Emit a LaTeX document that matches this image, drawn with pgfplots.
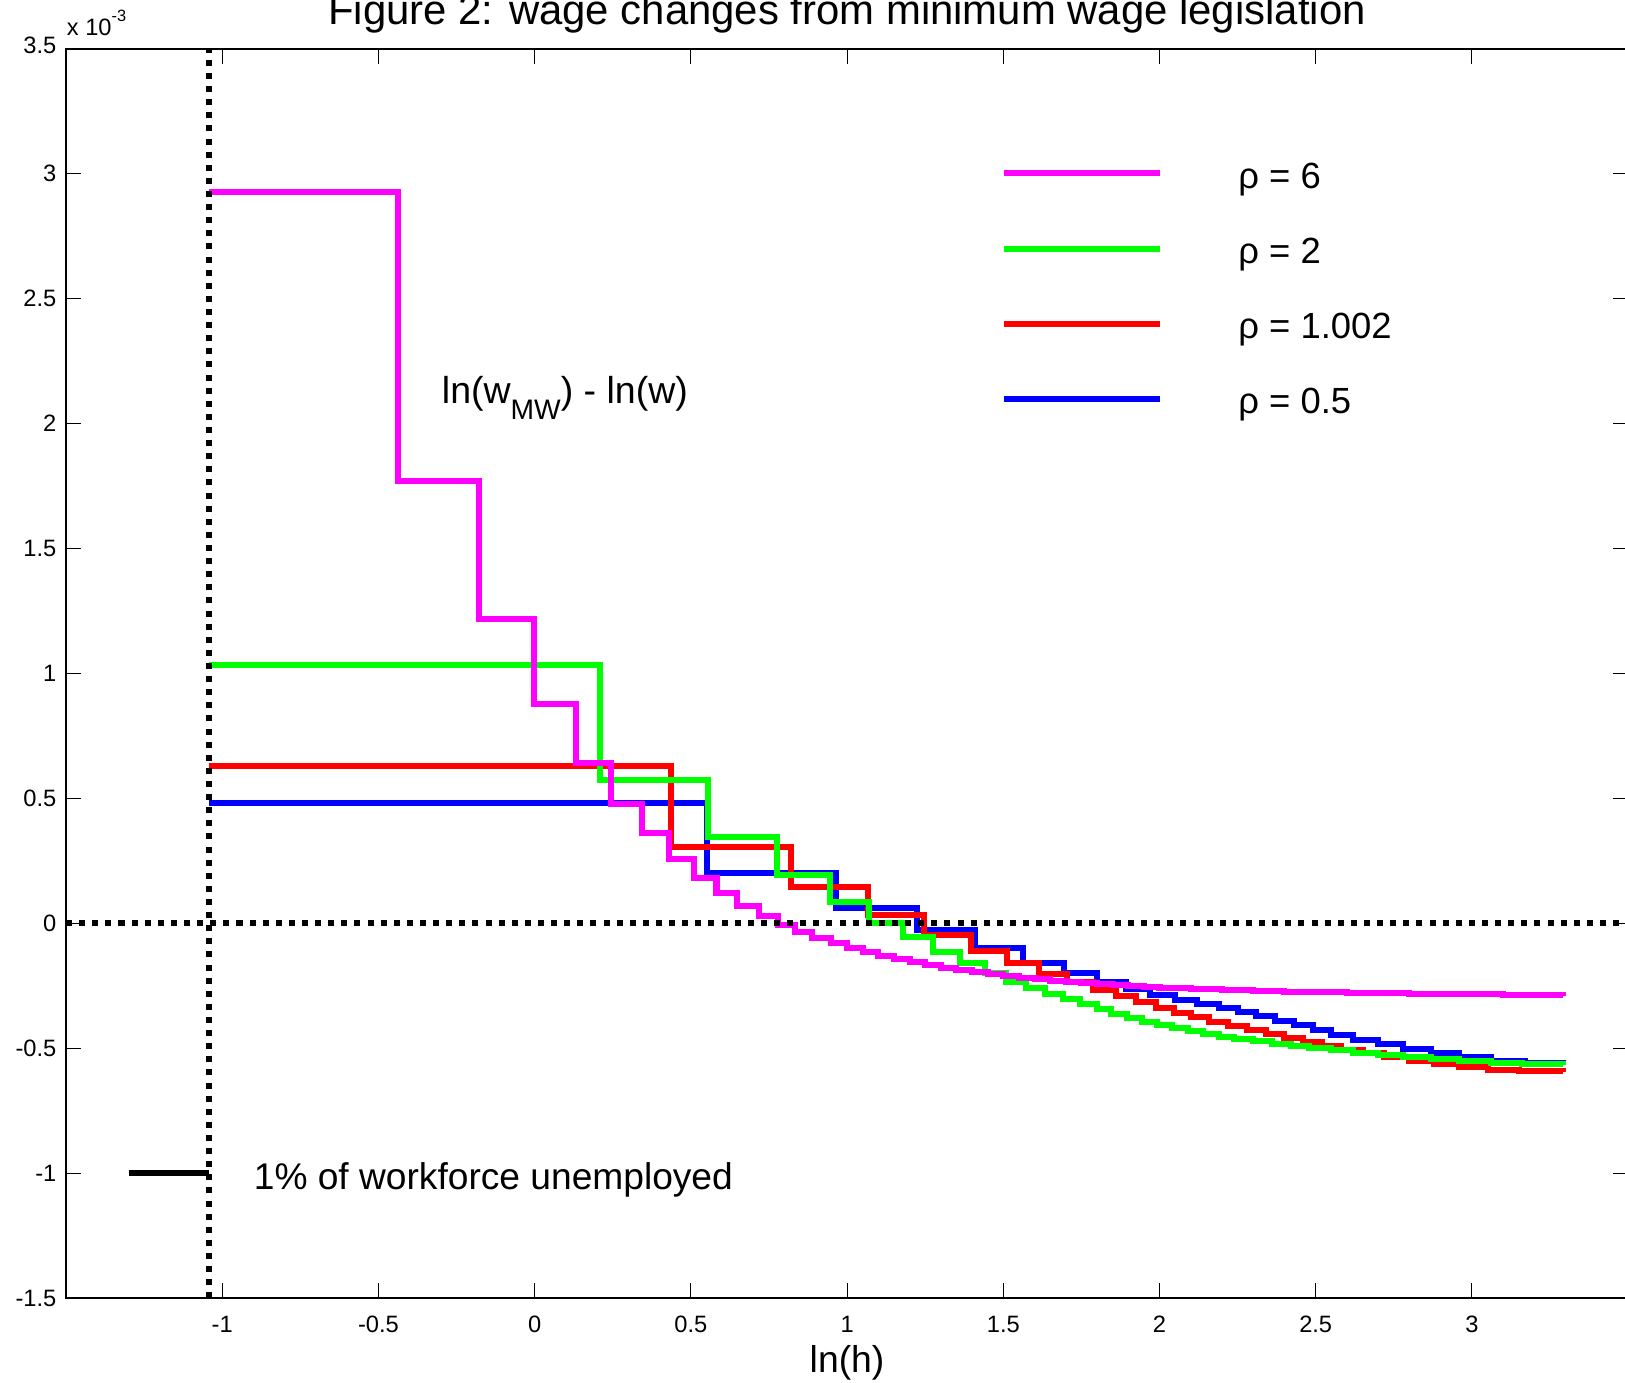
\documentclass[border=0pt]{standalone}
\usepackage{fontspec}
\setmainfont{Liberation Sans}
\usepackage{pgfplots}
\usepackage{pgfplotstable}
\pgfplotsset{compat=1.18}
\definecolor{rhosix}{RGB}{255,0,255}
\definecolor{rhotwo}{RGB}{0,255,0}
\definecolor{rhoone}{RGB}{255,0,0}
\definecolor{rhohalf}{RGB}{0,0,255}

% step levels: x where a level starts, level (x 10^-3)
\pgfplotstableread{
x y
-1.043 2.927
-0.437 1.770
-0.178 1.219
-0.002 0.879
0.131 0.643
0.244 0.477
0.345 0.361
0.430 0.257
0.510 0.182
0.582 0.120
0.648 0.070
0.718 0.029
0.778 -0.008
0.834 -0.033
0.888 -0.058
0.947 -0.079
0.999 -0.100
1.05 -0.116
1.10 -0.131
1.15 -0.144
1.20 -0.156
1.25 -0.167
1.30 -0.178
1.35 -0.187
1.40 -0.196
1.45 -0.204
1.50 -0.211
1.55 -0.217
1.60 -0.223
1.65 -0.229
1.70 -0.234
1.75 -0.239
1.80 -0.243
1.85 -0.247
1.90 -0.251
1.95 -0.254
2.00 -0.257
2.10 -0.262
2.20 -0.267
2.30 -0.271
2.40 -0.274
2.50 -0.276
2.60 -0.278
2.70 -0.280
2.80 -0.282
2.90 -0.283
3.00 -0.284
3.10 -0.285
3.20 -0.287
3.29 -0.288
}\rhosixtab

\pgfplotstableread{
x y
-1.043 1.035
0.209 0.573
0.556 0.347
0.776 0.194
0.944 0.087
1.071 0.000
1.180 -0.056
1.276 -0.113
1.361 -0.157
1.441 -0.197
1.510 -0.233
1.574 -0.258
1.633 -0.282
1.692 -0.304
1.745 -0.324
1.799 -0.344
1.846 -0.362
1.895 -0.378
1.943 -0.393
1.991 -0.407
2.04 -0.420
2.09 -0.432
2.14 -0.443
2.19 -0.453
2.24 -0.462
2.30 -0.472
2.36 -0.481
2.42 -0.490
2.48 -0.499
2.55 -0.508
2.62 -0.517
2.70 -0.527
2.78 -0.536
2.87 -0.544
2.96 -0.551
3.06 -0.557
3.16 -0.561
3.29 -0.563
}\rhotwotab

\pgfplotstableread{
x y
-1.043 0.631
0.437 0.307
0.821 0.144
1.066 0.033
1.246 -0.047
1.396 -0.109
1.513 -0.160
1.615 -0.204
1.705 -0.236
1.786 -0.267
1.860 -0.292
1.924 -0.315
1.988 -0.338
2.045 -0.358
2.10 -0.376
2.16 -0.395
2.22 -0.412
2.28 -0.428
2.34 -0.444
2.40 -0.460
2.46 -0.475
2.52 -0.490
2.58 -0.505
2.65 -0.520
2.72 -0.535
2.80 -0.550
2.88 -0.563
2.96 -0.575
3.05 -0.585
3.15 -0.592
3.29 -0.596
}\rhoonetab

\pgfplotstableread{
x y
-1.043 0.482
0.553 0.200
0.964 0.062
1.224 -0.027
1.411 -0.100
1.563 -0.157
1.694 -0.200
1.800 -0.233
1.893 -0.262
1.970 -0.287
2.05 -0.305
2.12 -0.322
2.19 -0.338
2.25 -0.354
2.31 -0.372
2.37 -0.390
2.43 -0.408
2.49 -0.427
2.55 -0.445
2.62 -0.465
2.70 -0.484
2.78 -0.503
2.87 -0.520
2.96 -0.535
3.06 -0.549
3.17 -0.560
3.29 -0.567
}\rhohalftab

\tikzset{
  refdot/.style={black, line width=3.3pt, dash pattern=on 3.3pt off 3.9pt},
}

\begin{document}
\begin{tikzpicture}
\begin{axis}[
  scale only axis,
  width=30.15cm, height=24.12cm,
  xmin=-1.5, xmax=3.5, ymin=-1.5, ymax=3.5,
  clip=false,
  xtick={-1,-0.5,0,0.5,1,1.5,2,2.5,3},
  xticklabels={-1,-0.5,0,0.5,1,1.5,2,2.5,3},
  ytick={-1.5,-1,-0.5,0,0.5,1,1.5,2,2.5,3,3.5},
  yticklabels={-1.5,-1,-0.5,0,0.5,1,1.5,2,2.5,3,\raisebox{0.14cm}{3.5}},
  xtick pos=both, ytick pos=both,
  xticklabel pos=lower, yticklabel pos=left,
  tick align=inside,
  major tick length=0.29cm,
  every tick/.style={black, line width=0.6pt},
  axis line style={line width=1.1pt},
  tick label style={font=\fontsize{13}{13}\selectfont},
  xticklabel style={anchor=base, inner sep=0pt, yshift=-0.65cm},
  yticklabel style={anchor=east, inner sep=0pt, xshift=-0.18cm},
  xlabel={ln(h)},
  xlabel style={at={(0.5,0)}, anchor=base, inner sep=0pt, yshift=-1.44cm,
                font=\fontsize{20.5}{20.5}\selectfont},
  title={Figure 2: wage changes from minimum wage legislation},
  title style={at={(0.5,1)}, anchor=base, inner sep=0pt, yshift=0.26cm,
               font=\fontsize{23}{23}\selectfont},
  every axis plot post/.append style={line width=3.3pt},
  legend image code/.code={\draw[#1, line width=3.3pt] (0cm,0cm) -- (3.02cm,0cm);},
  reverse legend,
  legend cell align=left,
  legend style={draw=none, fill=none, inner sep=0pt, outer sep=0pt,
                at={(0.5984,0.9121)}, anchor=north west,
                row sep=0.874cm, column sep=1.45cm,
                font=\fontsize{20}{20}\selectfont,
                nodes={inner sep=0pt, text height=16.4pt, text depth=0pt}},
]
\addplot[const plot, color=rhohalf] table[x=x, y=y] {\rhohalftab};
\addlegendentry{ρ = 0.5}
\addplot[const plot, color=rhoone] table[x=x, y=y] {\rhoonetab};
\addlegendentry{ρ = 1.002}
\addplot[const plot, color=rhotwo] table[x=x, y=y] {\rhotwotab};
\addlegendentry{ρ = 2}
\addplot[const plot, color=rhosix] table[x=x, y=y] {\rhosixtab};
\addlegendentry{ρ = 6}

% reference lines: minimum wage cut-off and zero change
\addplot[refdot, forget plot] coordinates {(-1.043,-1.5) (-1.043,3.5)};
\addplot[refdot, forget plot] coordinates {(-1.5,0) (3.5,0)};
% scale bar: 1% of workforce
\addplot[black, line width=3.6pt, forget plot] coordinates {(-1.300,-1.0) (-1.043,-1.0)};

\node[anchor=base west, inner sep=0pt, font=\fontsize{20.4}{20.4}\selectfont]
  at (axis cs:-0.900,-1.066) {1\% of workforce unemployed};
\node[anchor=base west, inner sep=0pt, font=\fontsize{20.6}{20.6}\selectfont]
  at (axis cs:-0.298,2.080)
  {ln(w\raisebox{-8.5pt}{\fontsize{15.5}{15.5}\selectfont MW}) - ln(w)};
\node[anchor=base west, inner sep=0pt, font=\fontsize{13}{13}\selectfont]
  at (rel axis cs:0,1) [xshift=0.01cm, yshift=0.264cm]
  {x 10\raisebox{7.5pt}{\fontsize{9}{9}\selectfont -3}};
\end{axis}
\pgfresetboundingbox
\path[use as bounding box]
  ([xshift=-1.275cm,yshift=-1.62cm]current axis.south west)
  rectangle ([xshift=-0.06cm,yshift=0.94cm]current axis.north east);
\end{tikzpicture}
\end{document}
